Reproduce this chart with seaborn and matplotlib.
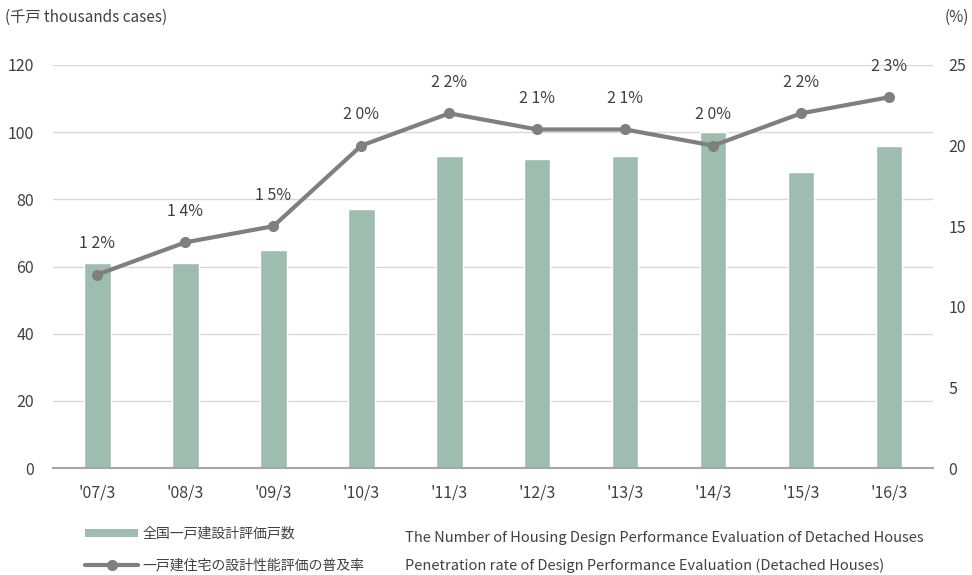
import matplotlib
import matplotlib.pyplot as plt
import numpy as np
import pandas as pd
import seaborn as sns
from matplotlib.lines import Line2D
from matplotlib.patches import Patch

matplotlib.use("Agg")

years = ["'07/3", "'08/3", "'09/3", "'10/3", "'11/3", "'12/3", "'13/3", "'14/3", "'15/3", "'16/3"]
cases = [61, 61, 65, 77, 93, 92, 93, 100, 88, 96]
rate = [12, 14, 15, 20, 22, 21, 21, 20, 22, 23]
rate_labels = ["1 2%", "1 4%", "1 5%", "2 0%", "2 2%", "2 1%", "2 1%", "2 0%", "2 2%", "2 3%"]

BAR_C = "#9fbcb1"
LINE_C = "#7f7f7f"
TXT_C = "#404040"

sns.set_theme(style="white")
plt.rcParams["font.family"] = ["Noto Sans CJK JP", "DejaVu Sans"]

df = pd.DataFrame({"year": years, "cases": cases, "rate": rate, "pos": np.arange(len(years))})

fig = plt.figure(figsize=(9.72, 5.75), dpi=100)
ax = fig.add_axes([0.055, 0.186, 0.905, 0.701])

sns.barplot(data=df, x="year", y="cases", color=BAR_C, width=0.3, saturation=1, ax=ax)
ax.set_ylim(0, 120)
ax.set_yticks(range(0, 121, 20))
ax.set_xlim(-0.5, 9.5)
ax.yaxis.grid(True, color="#d9d9d9", linewidth=1)
ax.set_axisbelow(True)
ax.set_xlabel("")
ax.set_ylabel("")
for s in ["top", "right", "left"]:
    ax.spines[s].set_visible(False)
ax.spines["bottom"].set_color("#a6a6a6")
ax.spines["bottom"].set_linewidth(1.5)
ax.tick_params(axis="both", length=0, labelsize=11.5, colors=TXT_C)
ax.tick_params(axis="x", pad=12)
ax.tick_params(axis="y", pad=14)

ax2 = ax.twinx()
sns.lineplot(data=df, x="pos", y="rate", color=LINE_C, linewidth=3, marker="o",
             markersize=8, markeredgewidth=0, ax=ax2)
ax2.set_ylim(0, 25)
ax2.set_yticks(range(0, 26, 5))
ax2.set_xlim(-0.5, 9.5)
ax2.set_xlabel("")
ax2.set_ylabel("")
for s in ax2.spines.values():
    s.set_visible(False)
ax2.tick_params(axis="y", length=0, labelsize=11.5, colors=TXT_C, pad=11)

for x, y, lab in zip(df["pos"], rate, rate_labels):
    ax2.annotate(lab, (x, y), xytext=(0, 16), textcoords="offset points",
                 ha="center", va="bottom", fontsize=11.5, color=TXT_C)

fig.text(0.005, 0.97, "(千戸 thousands cases)", fontsize=11, color=TXT_C, va="center")
fig.text(0.972, 0.97, "(%)", fontsize=11, color=TXT_C, va="center")

handles = [
    Patch(facecolor=BAR_C, edgecolor="none"),
    Line2D([0], [0], color=LINE_C, linewidth=3, marker="o", markersize=8, markeredgewidth=0),
]
fig.legend(handles, ["全国一戸建設計評価戸数", "一戸建住宅の設計性能評価の普及率"],
           loc="lower left", bbox_to_anchor=(0.075, -0.017), frameon=False,
           fontsize=10, labelcolor=TXT_C, handlelength=3.8, handleheight=0.6,
           handletextpad=0.3, labelspacing=1.25)
fig.text(0.417, 0.064, "The Number of Housing Design Performance Evaluation of Detached Houses",
         fontsize=10.5, color=TXT_C, va="center")
fig.text(0.417, 0.017, "Penetration rate of Design Performance Evaluation (Detached Houses)",
         fontsize=10.5, color=TXT_C, va="center")

fig.savefig("out.png", dpi=100)
